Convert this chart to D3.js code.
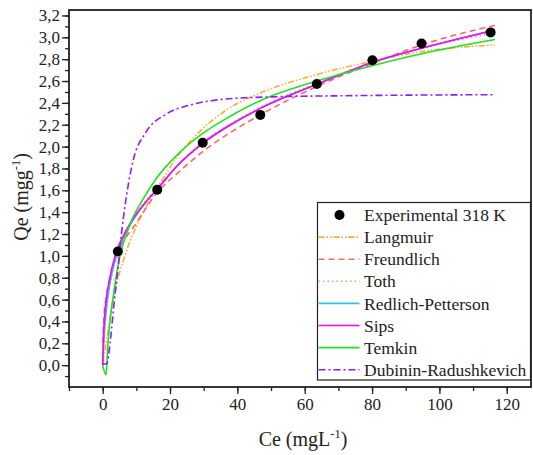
<!DOCTYPE html>
<html>
<head>
<meta charset="utf-8">
<script src="https://cdn.jsdelivr.net/npm/d3@7"></script>
<style>
  body { margin: 0; background: #fff; }
  text { font-family: "Liberation Serif", "Times New Roman", serif; fill: #222; }
</style>
</head>
<body>
<div id="chart"></div>
<script>
// experimental points, 318 K
var ce = [4.5, 16.2, 29.7, 46.8, 63.6, 80.1, 94.7, 115.2];
var qe = [1.04, 1.605, 2.035, 2.29, 2.573, 2.79, 2.944, 3.045];

// model curves, [Ce, Qe]
var langmuir = [[0,0],[1,0.2],[3.1,0.6],[6.6,1.0],[10,1.27],[16.2,1.62],[22,1.9],[28.9,2.14],[37,2.34],[46.8,2.49],[63.6,2.66],[80,2.78],[94.7,2.87],[116.5,2.93]];
var freundlich = [[0.05,0.2],[0.4,0.45],[1,0.61],[2.2,0.8],[4.6,1.03],[10,1.3],[16.2,1.58],[22,1.75],[30,1.96],[46.8,2.29],[63.6,2.55],[80,2.76],[94.7,2.93],[116.5,3.11]];
var toth = [[0,0],[0.5,0.3],[1.5,0.6],[3,0.85],[5,1.05],[8,1.28],[16.2,1.62],[22,1.82],[29.7,2.04],[38,2.21],[46.8,2.36],[63.6,2.58],[80,2.77],[94.7,2.9],[116.5,3.04]];
var redlich = [[0,0],[0.3,0.2],[1,0.48],[2,0.72],[4,1.0],[7.1,1.22],[13,1.5],[16.2,1.61],[22,1.82],[29.7,2.03],[38,2.2],[46.8,2.35],[63.6,2.57],[80,2.77],[94.7,2.9],[116.5,3.07]];
var sips = [[0,0],[0.3,0.3],[1,0.58],[2,0.78],[4,1.03],[7.1,1.24],[13,1.5],[16.2,1.61],[22,1.82],[29.7,2.03],[38,2.2],[46.8,2.35],[63.6,2.57],[80,2.77],[94.7,2.9],[116.5,3.065]];
var temkin = [[0,0],[1,-0.09],[1.5,0.17],[2,0.35],[3,0.6],[4.8,0.95],[8,1.28],[12,1.52],[16.2,1.72],[22,1.92],[29.7,2.12],[38,2.28],[46.8,2.42],[63.6,2.6],[80,2.74],[94.7,2.85],[116.5,2.98]];
var dubinin = [[0,0.01],[1.2,0.01],[1.7,0.08],[2.2,0.2],[3.2,0.51],[4.6,0.9],[5.6,1.21],[6.6,1.45],[7.6,1.65],[9.1,1.88],[12.6,2.12],[19,2.3],[25.9,2.38],[34.8,2.43],[50,2.455],[74,2.466],[116.5,2.475]];

var xTicks = [0, 20, 40, 60, 80, 100, 120];
var yTicks = [0, 0.2, 0.4, 0.6, 0.8, 1.0, 1.2, 1.4, 1.6, 1.8, 2.0, 2.2, 2.4, 2.6, 2.8, 3.0, 3.2];

var series = [
  {name: "Langmuir", data: langmuir, color: "#ffad2e", dash: "6,2,1.5,2,1.5,2"},
  {name: "Freundlich", data: freundlich, color: "#ff6666", dash: "6,4"},
  {name: "Toth", data: toth, color: "#e8a466", dash: "1.5,3"},
  {name: "Redlich-Petterson", data: redlich, color: "#2ec4e6", dash: null},
  {name: "Sips", data: sips, color: "#ff00ff", dash: null},
  {name: "Temkin", data: temkin, color: "#22e022", dash: null},
  {name: "Dubinin-Radushkevich", data: dubinin, color: "#8a1cff", dash: "7,3,2,3"}
];

function draw() {
  var width = 533, height = 455;
  var left = 69, right = 531, plotTop = 10, bottom = 387;

  var svg = d3.select("#chart").append("svg")
      .attr("width", width)
      .attr("height", height);

  var x = d3.scaleLinear().domain([-10, 127.2]).range([left, right]);
  var y = d3.scaleLinear().domain([-0.2, 3.25]).range([bottom, plotTop]);

  var comma = function(d) { return d3.format(".1f")(d).replace(".", ","); };

  // minor ticks
  svg.append("g")
      .attr("transform", "translate(0," + bottom + ")")
      .call(d3.axisBottom(x).tickValues(d3.range(-10, 121, 10)).tickSize(4).tickFormat("").tickSizeOuter(0))
      .call(function(g) { g.select(".domain").remove(); });
  svg.append("g")
      .attr("transform", "translate(" + left + ",0)")
      .call(d3.axisLeft(y).tickValues(d3.range(-1, 33).map(function(i) { return i / 10; })).tickSize(4).tickFormat("").tickSizeOuter(0))
      .call(function(g) { g.select(".domain").remove(); });

  // major ticks
  var xAxis = svg.append("g")
      .attr("transform", "translate(0," + bottom + ")")
      .call(d3.axisBottom(x).tickValues(xTicks).tickSize(7).tickPadding(4).tickSizeOuter(0));
  var yAxis = svg.append("g")
      .attr("transform", "translate(" + left + ",0)")
      .call(d3.axisLeft(y).tickValues(yTicks).tickFormat(comma).tickSize(7).tickPadding(2).tickSizeOuter(0));

  svg.selectAll(".tick line").attr("stroke", "#222").attr("stroke-width", 1.3);
  xAxis.select(".domain").remove();
  yAxis.select(".domain").remove();
  svg.selectAll(".tick text")
      .style("font-family", "'Liberation Serif', 'Times New Roman', serif")
      .style("font-size", "17px")
      .attr("fill", "#222");

  // frame
  svg.append("rect")
      .attr("x", left).attr("y", plotTop)
      .attr("width", right - left).attr("height", bottom - plotTop)
      .attr("fill", "none").attr("stroke", "#222").attr("stroke-width", 1.8);

  var line = d3.line()
      .x(function(d) { return x(d[0]); })
      .y(function(d) { return y(d[1]); })
      .curve(d3.curveMonotoneX);

  svg.selectAll("path.fit")
      .data(series)
      .enter().append("path")
      .attr("class", "fit")
      .attr("d", function(d) { return line(d.data); })
      .attr("fill", "none")
      .attr("stroke", function(d) { return d.color; })
      .attr("stroke-width", 1.6)
      .attr("stroke-dasharray", function(d) { return d.dash; });

  svg.selectAll("circle.pt")
      .data(ce)
      .enter().append("circle")
      .attr("class", "pt")
      .attr("cx", function(d) { return x(d); })
      .attr("cy", function(d, i) { return y(qe[i]); })
      .attr("r", 5)
      .attr("fill", "#000");

  // legend
  var lg = svg.append("g");
  lg.append("rect")
      .attr("x", 317.5).attr("y", 202.5)
      .attr("width", 213).attr("height", 177.5)
      .attr("fill", "#fff").attr("stroke", "#222").attr("stroke-width", 1.2);

  var rowY = function(i) { return 215 + i * 22.1; };
  lg.append("circle").attr("cx", 339.5).attr("cy", rowY(0)).attr("r", 5).attr("fill", "#000");
  lg.append("text").attr("x", 364).attr("y", rowY(0)).attr("dy", "0.35em")
      .style("font-size", "17.5px").text("Experimental 318 K");

  series.forEach(function(s, i) {
    lg.append("line")
        .attr("x1", 318.5).attr("x2", 359.5)
        .attr("y1", rowY(i + 1)).attr("y2", rowY(i + 1))
        .attr("stroke", s.color).attr("stroke-width", 1.6)
        .attr("stroke-dasharray", s.dash);
    lg.append("text").attr("x", 364).attr("y", rowY(i + 1)).attr("dy", "0.35em")
        .style("font-size", "17.5px").text(s.name);
  });

  // axis titles
  var xt = svg.append("text")
      .attr("x", 303).attr("y", 446)
      .attr("text-anchor", "middle")
      .style("font-size", "20px");
  xt.append("tspan").text("Ce (mgL");
  xt.append("tspan").attr("dy", -8).style("font-size", "12.5px").text("-1");
  xt.append("tspan").attr("dy", 8).text(")");

  var yt = svg.append("text")
      .attr("transform", "translate(28,197) rotate(-90)")
      .attr("text-anchor", "middle")
      .style("font-size", "20px");
  yt.append("tspan").text("Qe (mgg");
  yt.append("tspan").attr("dy", -8).style("font-size", "12.5px").text("-1");
  yt.append("tspan").attr("dy", 8).text(")");
}

draw();
</script>
</body>
</html>
